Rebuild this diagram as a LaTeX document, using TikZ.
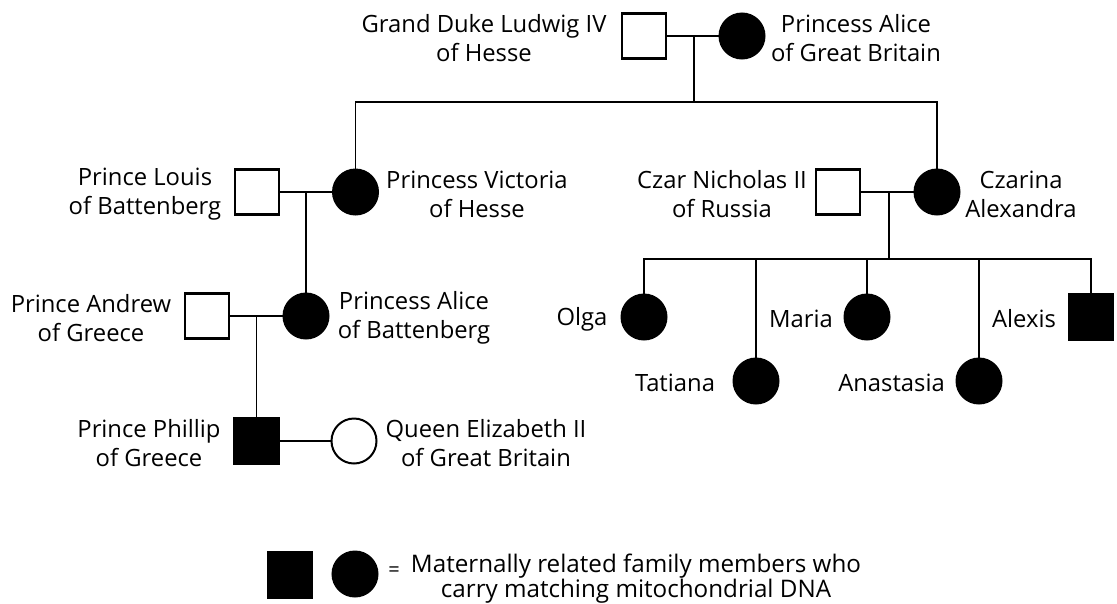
\documentclass[tikz,border=0pt]{standalone}
\usepackage{fontspec}
\setmainfont{Open Sans}
\begin{document}
\begin{tikzpicture}[x=1pt,y=-1pt,
  male/.style={draw=black,rectangle,line width=2.2pt,minimum width=44pt,minimum height=45pt,inner sep=0pt,fill=white},
  female/.style={draw=black,circle,line width=2pt,minimum size=45pt,inner sep=0pt,fill=white},
  carrier/.style={fill=black},
  lbl/.style={font=\fontsize{23.8}{29}\selectfont,align=center,inner sep=0pt},
  link/.style={line width=1.7pt,black}]
\useasboundingbox (0,0) rectangle (1117,603);
% generation 1
\node[male] (lud) at (644,36) {};
\node[female,carrier] (aliceGB) at (742,36) {};
\node[lbl] (ludL) at (484,38) {Grand Duke Ludwig IV\\of Hesse};
\node[lbl] (aliceGBL) at (856,38) {Princess Alice\\of Great Britain};
% generation 2
\node[male] (louis) at (257,192) {};
\node[female,carrier] (vic) at (355.5,192) {};
\node[male] (nich) at (838,192) {};
\node[female,carrier] (alex) at (937,192) {};
\node[lbl] (louisL) at (145,194) {Prince Louis\\of Battenberg};
\node[lbl] (vicL) at (477,194) {Princess Victoria\\of Hesse};
\node[lbl] (nichL) at (722,194) {Czar Nicholas II\\of Russia};
\node[lbl] (alexL) at (1021,194) {Czarina\\Alexandra};
% generation 3
\node[male] (andrew) at (207,316) {};
\node[female,carrier] (aliceB) at (306,316) {};
\node[lbl] (andrewL) at (91,318) {Prince Andrew\\of Greece};
\node[lbl] (aliceBL) at (414,318) {Princess Alice\\of Battenberg};
\node[female,carrier] (olga) at (644,317) {};
\node[female,carrier] (tat) at (756,381) {};
\node[female,carrier] (maria) at (867,317) {};
\node[female,carrier] (ana) at (979,381) {};
\node[male,carrier] (alexis) at (1091,317) {};
\node[lbl] (olgaL) at (582,319) {Olga};
\node[lbl] (tatL) at (675,383) {Tatiana};
\node[lbl] (mariaL) at (801,319) {Maria};
\node[lbl] (anaL) at (891.5,383) {Anastasia};
\node[lbl] (alexisL) at (1024,319) {Alexis};
% generation 4
\node[male,carrier] (phil) at (256.5,441) {};
\node[female] (eliz) at (354,441) {};
\node[lbl] (philL) at (149,443) {Prince Phillip\\of Greece};
\node[lbl] (elizL) at (486,443) {Queen Elizabeth II\\of Great Britain};
% connectors
\coordinate (m1) at (694,36);
\coordinate (s1) at (694,102);
\draw[link] (lud) -- (aliceGB);
\draw[link] (m1) -- (s1);
\draw[link] (vic) |- (s1) -| (alex);
\coordinate (m2) at (306,192);
\draw[link] (louis) -- (vic);
\draw[link] (m2) -- (aliceB);
\coordinate (m3) at (256.5,316);
\draw[link] (andrew) -- (aliceB);
\draw[link] (m3) -- (phil);
\draw[link] (phil) -- (eliz);
\coordinate (m4) at (889,192);
\coordinate (s4) at (889,259);
\draw[link] (nich) -- (alex);
\draw[link] (m4) -- (s4);
\draw[link] (olga) |- (s4) -| (alexis);
\draw[link] (tat) -- (tat |- s4);
\draw[link] (maria) -- (maria |- s4);
\draw[link] (ana) -- (ana |- s4);
% legend
\node[male,carrier] (legSq) at (290,575) {};
\node[female,carrier] (legCi) at (355,574) {};
\node[inner sep=0pt,font=\fontsize{20}{20}\selectfont] (legEq) at (394,572) {=};
\node[inner sep=0pt,align=center,font=\fontsize{24.2}{24}\selectfont] (legL) at (636,579) {Maternally related family members who\\carry matching mitochondrial DNA};
\end{tikzpicture}
\end{document}
